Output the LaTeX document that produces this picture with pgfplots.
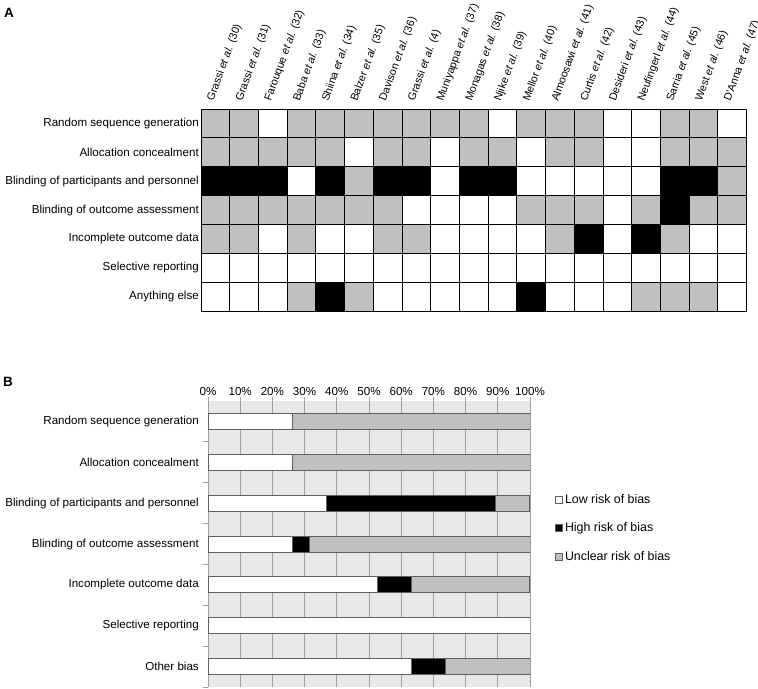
\documentclass[border=0pt]{standalone}
\usepackage{fontspec}
\setmainfont{Liberation Sans}
\usepackage{pgfplots}
\pgfplotsset{compat=1.18}

\definecolor{unclear}{RGB}{192,192,192}
\definecolor{panelbg}{RGB}{232,232,232}
\definecolor{gridgray}{RGB}{160,160,160}
\definecolor{barline}{RGB}{96,96,96}

\newcommand{\lab}{\fontsize{11.6bp}{13bp}\selectfont}

\begin{document}
\begin{tikzpicture}[x=1bp,y=1bp]
\useasboundingbox (0,0) rectangle (758,-689);
\node[anchor=north west, inner sep=0pt, font=\bfseries\fontsize{13.5bp}{13.5bp}\selectfont] at (4,-8) {A};
\node[anchor=north west, inner sep=0pt, font=\bfseries\fontsize{13.5bp}{13.5bp}\selectfont] at (3,-377) {B};

% A: risk of bias for each study (0 low, 1 high, 2 unclear)
\begin{axis}[
  at={(201bp,-109bp)}, anchor=north west,
  scale only axis, width=545.7bp, height=202bp,
  xmin=-0.5, xmax=18.5, ymin=-0.5, ymax=6.5, y dir=reverse,
  axis on top,
  xtick={0,...,18}, ytick={0,...,6},
  major tick length=0pt,
  xticklabel pos=upper,
  xticklabels={{Grassi \textit{et al.} (30)}, {Grassi \textit{et al.} (31)},
    {Farouque \textit{et al.} (32)}, {Baba \textit{et al.} (33)},
    {Shiina \textit{et al.} (34)}, {Balzer \textit{et al.} (35)},
    {Davison \textit{et al.} (36)}, {Grassi \textit{et al.} (4)},
    {Muniyappa \textit{et al.} (37)}, {Monagas \textit{et al.} (38)},
    {Njike \textit{et al.} (39)}, {Mellor \textit{et al.} (40)},
    {Almoosawi \textit{et al.} (41)}, {Curtis \textit{et al.} (42)},
    {Desideri \textit{et al.} (43)}, {Neufingerl \textit{et al.} (44)},
    {Sarria \textit{et al.} (45)}, {West \textit{et al.} (46)},
    {D'Anna \textit{et al.} (47)}},
  yticklabels={Random sequence generation, Allocation concealment,
    Blinding of participants and personnel, Blinding of outcome assessment,
    Incomplete outcome data, Selective reporting, Anything else},
  xticklabel style={xshift=-5bp, yshift=7bp, rotate=70, anchor=west,
    font=\fontsize{10.8bp}{13bp}\selectfont, inner sep=1bp},
  yticklabel style={font=\lab, inner sep=2bp},
  minor xtick={-0.5,0.5,...,18.5}, minor ytick={-0.5,0.5,...,6.5},
  minor tick length=0pt,
  xminorgrids, yminorgrids,
  minor grid style={black, line width=1bp},
  axis line style={black, line width=1bp},
  colormap={rob}{color=(white) color=(black) color=(unclear)},
  colormap access=direct,
]
\addplot[matrix plot*, mesh/cols=19, point meta=explicit]
  table[meta=c, row sep=\\] {
x y c\\
0 0 2\\ 1 0 2\\ 2 0 0\\ 3 0 2\\ 4 0 2\\ 5 0 2\\ 6 0 2\\ 7 0 2\\ 8 0 2\\ 9 0 2\\
10 0 0\\ 11 0 2\\ 12 0 2\\ 13 0 2\\ 14 0 0\\ 15 0 0\\ 16 0 2\\ 17 0 2\\ 18 0 0\\
0 1 2\\ 1 1 2\\ 2 1 2\\ 3 1 2\\ 4 1 2\\ 5 1 0\\ 6 1 2\\ 7 1 2\\ 8 1 0\\ 9 1 2\\
10 1 2\\ 11 1 0\\ 12 1 2\\ 13 1 2\\ 14 1 0\\ 15 1 0\\ 16 1 2\\ 17 1 2\\ 18 1 2\\
0 2 1\\ 1 2 1\\ 2 2 1\\ 3 2 0\\ 4 2 1\\ 5 2 2\\ 6 2 1\\ 7 2 1\\ 8 2 0\\ 9 2 1\\
10 2 1\\ 11 2 0\\ 12 2 0\\ 13 2 0\\ 14 2 0\\ 15 2 0\\ 16 2 1\\ 17 2 1\\ 18 2 2\\
0 3 2\\ 1 3 2\\ 2 3 2\\ 3 3 2\\ 4 3 2\\ 5 3 2\\ 6 3 2\\ 7 3 0\\ 8 3 0\\ 9 3 0\\
10 3 0\\ 11 3 2\\ 12 3 2\\ 13 3 2\\ 14 3 0\\ 15 3 2\\ 16 3 1\\ 17 3 2\\ 18 3 2\\
0 4 2\\ 1 4 2\\ 2 4 0\\ 3 4 2\\ 4 4 0\\ 5 4 0\\ 6 4 2\\ 7 4 2\\ 8 4 0\\ 9 4 0\\
10 4 0\\ 11 4 0\\ 12 4 2\\ 13 4 1\\ 14 4 0\\ 15 4 1\\ 16 4 2\\ 17 4 0\\ 18 4 0\\
0 5 0\\ 1 5 0\\ 2 5 0\\ 3 5 0\\ 4 5 0\\ 5 5 0\\ 6 5 0\\ 7 5 0\\ 8 5 0\\ 9 5 0\\
10 5 0\\ 11 5 0\\ 12 5 0\\ 13 5 0\\ 14 5 0\\ 15 5 0\\ 16 5 0\\ 17 5 0\\ 18 5 0\\
0 6 0\\ 1 6 0\\ 2 6 0\\ 3 6 2\\ 4 6 1\\ 5 6 2\\ 6 6 0\\ 7 6 0\\ 8 6 0\\ 9 6 0\\
10 6 0\\ 11 6 1\\ 12 6 0\\ 13 6 0\\ 14 6 0\\ 15 6 2\\ 16 6 2\\ 17 6 2\\ 18 6 0\\
};
\end{axis}

% B: percentage of studies per judgement
\begin{axis}[
  at={(208bp,-401bp)}, anchor=north west,
  scale only axis, width=322bp, height=286bp,
  xbar stacked, bar width=16bp,
  xmin=0, xmax=100, ymin=-0.5, ymax=6.5, y dir=reverse,
  axis x line*=top, axis y line*=left,
  x axis line style={draw=none},
  y axis line style={gridgray, line width=1bp},
  axis background/.style={fill=panelbg},
  xtick={0,10,...,100},
  xticklabels={0\%,10\%,20\%,30\%,40\%,50\%,60\%,70\%,80\%,90\%,100\%},
  xmajorgrids, major grid style={gridgray, line width=1bp},
  tick align=outside, major tick length=4bp,
  x tick style={gridgray, line width=1bp},
  ytick={0,...,6},
  yticklabels={Random sequence generation, Allocation concealment,
    Blinding of participants and personnel, Blinding of outcome assessment,
    Incomplete outcome data, Selective reporting, Other bias},
  y tick style={draw=none},
  extra y ticks={0.5,1.5,...,6.5}, extra y tick labels={},
  extra y tick style={y tick style={draw=gridgray, line width=1bp}, major tick length=5bp},
  xticklabel style={font=\lab, inner sep=1bp},
  yticklabel style={font=\lab, inner sep=2bp, xshift=-3bp},
  legend style={at={(1.069,0.556)}, anchor=west, draw=none, fill=none,
    font=\fontsize{12.4bp}{14bp}\selectfont, row sep=14bp, cells={anchor=west}},
]
\addplot[fill=white, draw=barline, line width=1bp,
  legend image code/.code={\draw[fill=white, draw=barline, line width=0.6bp] (0bp,-3.5bp) rectangle (7bp,3.5bp);}]
  coordinates {(26.3,0) (26.3,1) (36.8,2) (26.3,3) (52.6,4) (100,5) (63.2,6)};
\addlegendentry{Low risk of bias}
\addplot[fill=black, draw=barline, line width=1bp,
  legend image code/.code={\draw[fill=black, draw=barline, line width=0.6bp] (0bp,-3.5bp) rectangle (7bp,3.5bp);}]
  coordinates {(0,0) (0,1) (52.6,2) (5.3,3) (10.5,4) (0,5) (10.5,6)};
\addlegendentry{High risk of bias}
\addplot[fill=unclear, draw=barline, line width=1bp,
  legend image code/.code={\draw[fill=unclear, draw=barline, line width=0.6bp] (0bp,-3.5bp) rectangle (7bp,3.5bp);}]
  coordinates {(73.7,0) (73.7,1) (10.5,2) (68.4,3) (36.8,4) (0,5) (26.3,6)};
\addlegendentry{Unclear risk of bias}
\end{axis}
\end{tikzpicture}
\end{document}
